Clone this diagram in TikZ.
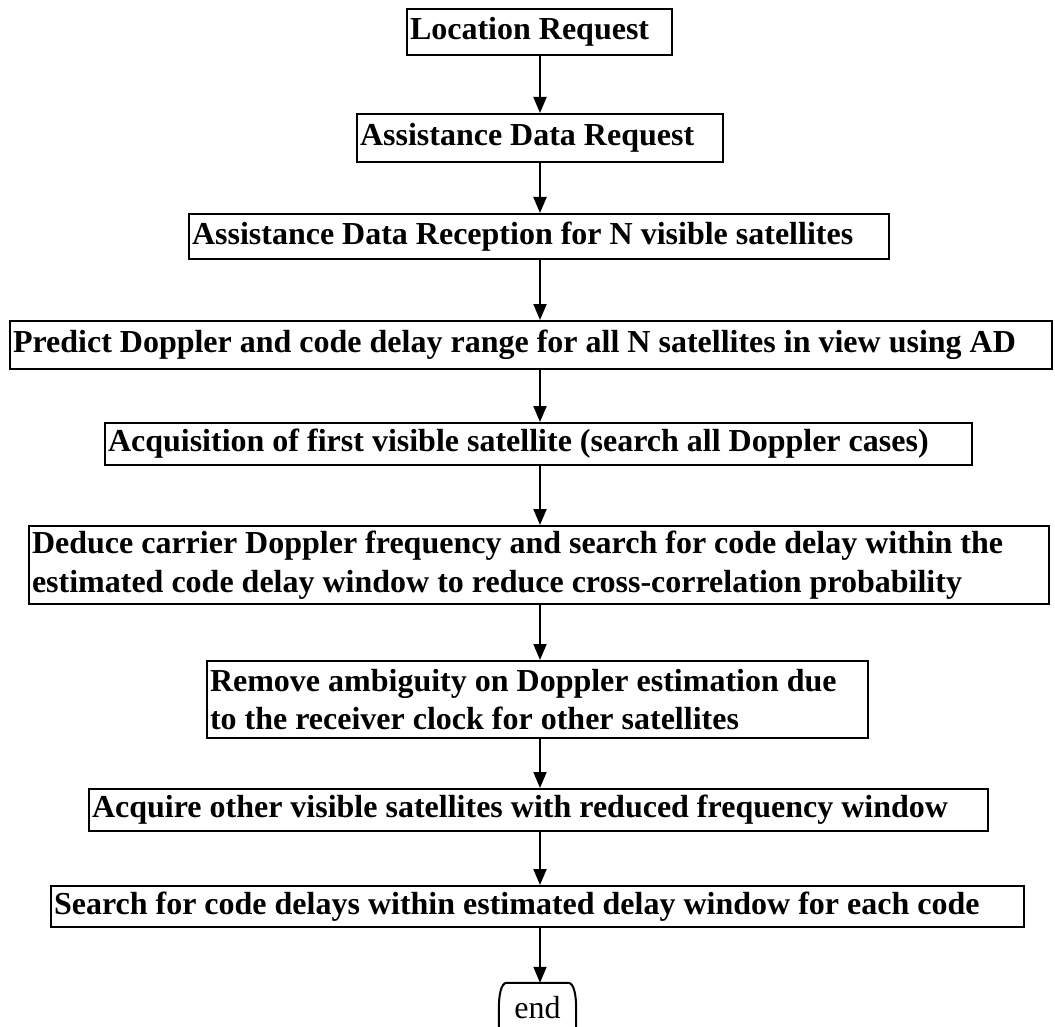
\documentclass[tikz,border=0pt]{standalone}
\usepackage{fontspec}
\setmainfont{Liberation Serif}
\usetikzlibrary{arrows.meta}
\newcommand{\flowboxfont}{\bfseries\fontsize{32}{38.4}\selectfont}
\begin{document}
\begin{tikzpicture}[x=1pt,y=-1pt,
  box/.style={draw, line width=2pt, inner xsep=3pt, inner ysep=0pt, align=flush left,
    font=\flowboxfont},
  arr/.style={line width=2pt, -{Triangle[length=16pt,width=13pt]}}]
\useasboundingbox (0,0) rectangle (1055,1027);
\coordinate (axis) at (540,0);
\node[box, minimum width=265pt, minimum height=46pt, text width=259pt] (loc) at (539.5,32) {Location Request};
\node[box, minimum width=366pt, minimum height=48pt, text width=360pt] (adr) at (540,138) {Assistance Data Request};
\node[box, minimum width=700pt, minimum height=45pt, text width=694pt] (rec) at (539,236.5) {Assistance Data Reception for N visible satellites};
\node[box, minimum width=1042pt, minimum height=48pt, text width=1036pt] (pre) at (531,345) {Predict Doppler and code delay range for all N satellites in view using AD};
\node[box, minimum width=867pt, minimum height=42pt, text width=861pt] (acq) at (538.5,444) {Acquisition of first visible satellite (search all Doppler cases)};
\node[box, minimum width=1020pt, minimum height=78pt, text width=1014pt] (ded) at (539,565) {Deduce carrier Doppler frequency and search for code delay within the\\estimated code delay window to reduce cross-correlation probability};
\node[box, minimum width=661pt, minimum height=77pt, text width=655pt] (rem) at (537.5,699.5) {Remove ambiguity on Doppler estimation due\\to the receiver clock for other satellites};
\node[box, minimum width=899pt, minimum height=42pt, text width=893pt] (aqo) at (538.5,810) {Acquire other visible satellites with reduced frequency window};
\node[box, minimum width=973pt, minimum height=41pt, text width=967pt] (sea) at (537.5,906.5) {Search for code delays within estimated delay window for each code};
\node[minimum width=77pt, minimum height=70pt, inner sep=0pt, text height=15pt, text depth=15pt,
  font=\fontsize{32}{38.4}\selectfont] (end) at (537.5,1018) {end};
\draw[line width=2pt] (end.south west) -- ([yshift=-27pt]end.north west)
  .. controls +(0,-14) and +(-6,0) .. ([xshift=8pt]end.north west)
  -- ([xshift=-8pt]end.north east)
  .. controls +(6,0) and +(0,-14) .. ([yshift=-27pt]end.north east)
  -- (end.south east);
\draw[arr] (loc.south -| axis) -- (adr.north -| axis);
\draw[arr] (adr.south -| axis) -- (rec.north -| axis);
\draw[arr] (rec.south -| axis) -- (pre.north -| axis);
\draw[arr] (pre.south -| axis) -- (acq.north -| axis);
\draw[arr] (acq.south -| axis) -- (ded.north -| axis);
\draw[arr] (ded.south -| axis) -- (rem.north -| axis);
\draw[arr] (rem.south -| axis) -- (aqo.north -| axis);
\draw[arr] (aqo.south -| axis) -- (sea.north -| axis);
\draw[arr] (sea.south -| axis) -- (end.north -| axis);
\end{tikzpicture}
\end{document}
